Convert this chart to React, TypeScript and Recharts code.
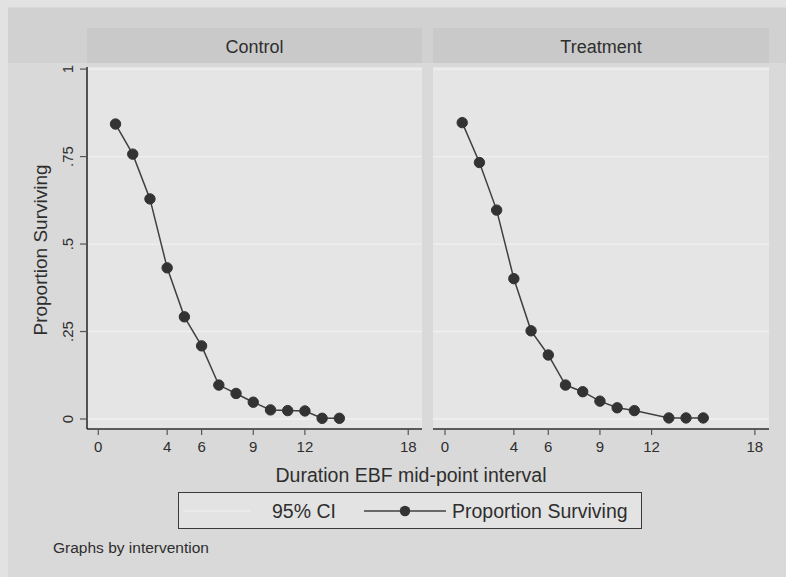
import React from 'react';
import { LineChart, Line, XAxis, YAxis, CartesianGrid, ReferenceLine } from 'recharts';

// survival by mid-point of exclusive breastfeeding interval
const controlDuration = [1, 2, 3, 4, 5, 6, 7, 8, 9, 10, 11, 12, 13, 14];
const controlSurv = [0.843, 0.757, 0.629, 0.432, 0.292, 0.209, 0.097, 0.073, 0.048, 0.026, 0.024, 0.023, 0.002, 0.002];

const treatmentDuration = [1, 2, 3, 4, 5, 6, 7, 8, 9, 10, 11, 13, 14, 15];
const treatmentSurv = [0.847, 0.733, 0.597, 0.401, 0.252, 0.183, 0.097, 0.078, 0.051, 0.032, 0.024, 0.003, 0.003, 0.003];

const xTicks = [0, 4, 6, 9, 12, 18];
const yTicks = [0, 0.25, 0.5, 0.75, 1];
const panelTitles = ['Control', 'Treatment'];

const FONT = '"Liberation Sans", Arial, Helvetica, sans-serif';
const INK = '#2e2e2e';
const LINE = '#404040';
const DOT = '#333';
const PLOT_BG = '#e5e5e5';
const GRID = '#f0f0f0';
const STRIP = '#c9c9c9';

const CHART_H = 460;
const TOP = 67;
const X_AXIS_H = 31;
const Y_DOMAIN: [number, number] = [-0.0286, 1.006];

const yFmt = (v: number) => (v === 0 ? '0' : v === 1 ? '1' : String(v).replace(/^0/, ''));

const controlData = controlDuration.map((d, i) => ({ duration: d, surv: controlSurv[i] }));
const treatmentData = treatmentDuration.map((d, i) => ({ duration: d, surv: treatmentSurv[i] }));

function RotatedTick(props: any) {
  const { x, y, payload } = props;
  return (
    <text
      x={x}
      y={y}
      transform={`rotate(-90 ${x} ${y})`}
      textAnchor="middle"
      fontSize={15}
      fontFamily={FONT}
      fill={INK}
    >
      {yFmt(payload.value)}
    </text>
  );
}

function Panel({
  data,
  width,
  xDomain,
  showY,
}: {
  data: { duration: number; surv: number }[];
  width: number;
  xDomain: [number, number];
  showY: boolean;
}) {
  return (
    <LineChart width={width} height={CHART_H} data={data} margin={{ top: TOP, right: 0, bottom: 0, left: 0 }}>
      <CartesianGrid horizontal={false} vertical={false} fill={PLOT_BG} stroke="none" />
      {yTicks.map((t) => (
        <ReferenceLine key={t} y={t} stroke={GRID} strokeWidth={1.3} />
      ))}
      <XAxis
        dataKey="duration"
        type="number"
        domain={xDomain}
        ticks={xTicks}
        interval={0}
        allowDataOverflow
        height={X_AXIS_H}
        tickSize={6}
        tickMargin={6}
        axisLine={{ stroke: INK, strokeWidth: 1.6 }}
        tickLine={{ stroke: '#555', strokeWidth: 1.2 }}
        tick={{ fontSize: 15, fontFamily: FONT, fill: INK }}
      />
      <YAxis
        type="number"
        domain={Y_DOMAIN}
        ticks={yTicks}
        interval={0}
        allowDataOverflow
        hide={!showY}
        width={87}
        tickSize={7}
        tickMargin={7}
        axisLine={{ stroke: INK, strokeWidth: 1.6 }}
        tickLine={{ stroke: '#555', strokeWidth: 1.2 }}
        tick={<RotatedTick />}
      />
      <Line
        dataKey="surv"
        type="linear"
        stroke={LINE}
        strokeWidth={1.5}
        dot={{ r: 5.2, fill: DOT, stroke: DOT, strokeWidth: 1 }}
        isAnimationActive={false}
      />
    </LineChart>
  );
}

const abs = (s: React.CSSProperties): React.CSSProperties => ({ position: 'absolute', ...s });

export default function App() {
  return (
    <div
      style={abs({
        left: 0,
        top: 0,
        width: 786,
        height: 577,
        background: '#e2e2e2',
        overflow: 'hidden',
        fontFamily: FONT,
        color: INK,
      })}
    >
      <div style={abs({ left: 8, top: 7, right: 0, bottom: 0, background: '#d9d9d9' })} />
      <div style={abs({ left: 8, top: 8, right: 0, height: 55, background: '#d1d1d1' })} />

      {/* strip headers */}
      {[
        { left: 87, width: 335 },
        { left: 433, width: 336 },
      ].map((s, i) => (
        <div
          key={i}
          style={abs({
            left: s.left,
            top: 28,
            width: s.width,
            height: 35,
            background: STRIP,
          })}
        >
          <div
            style={abs({
              left: 0,
              width: '100%',
              top: 9.8,
              fontSize: 18,
              lineHeight: 1,
              textAlign: 'center',
              whiteSpace: 'nowrap',
            })}
          >
            {panelTitles[i]}
          </div>
        </div>
      ))}

      <div style={abs({ left: 0, top: 0 })}>
        <Panel data={controlData} width={422} xDomain={[-0.656, 18.8]} showY />
      </div>
      <div style={abs({ left: 433, top: 0 })}>
        <Panel data={treatmentData} width={336} xDomain={[-0.697, 18.82]} showY={false} />
      </div>

      {/* axis titles */}
      <div
        style={abs({
          left: 40,
          top: 250,
          fontSize: 19,
          lineHeight: 1,
          whiteSpace: 'nowrap',
          transform: 'translate(-50%, -50%) rotate(-90deg)',
        })}
      >
        Proportion Surviving
      </div>
      <div
        style={abs({
          left: 411,
          top: 465.5,
          fontSize: 19.5,
          lineHeight: 1,
          whiteSpace: 'nowrap',
          transform: 'translateX(-50%)',
        })}
      >
        Duration EBF mid-point interval
      </div>

      {/* legend */}
      <div
        style={abs({
          left: 178,
          top: 492,
          width: 462,
          height: 35,
          border: '1.6px solid #3a3a3a',
          background: '#e3e3e3',
        })}
      >
        <svg style={abs({ left: 4, top: 0 })} width={70} height={36}>
          <line x1={0} y1={18} x2={68} y2={18} stroke="#ededed" strokeWidth={1.5} />
        </svg>
        <div style={abs({ left: 93, top: 9, fontSize: 19.5, lineHeight: 1, whiteSpace: 'nowrap' })}>95% CI</div>
        <svg style={abs({ left: 185, top: 0 })} width={84} height={36}>
          <line x1={0} y1={18} x2={82} y2={18} stroke={LINE} strokeWidth={1.5} />
          <circle cx={41} cy={18} r={5.2} fill={DOT} />
        </svg>
        <div style={abs({ left: 273, top: 9, fontSize: 19.5, lineHeight: 1, whiteSpace: 'nowrap' })}>
          Proportion Surviving
        </div>
      </div>

      <div style={abs({ left: 53, top: 540, fontSize: 15.5, lineHeight: 1, whiteSpace: 'nowrap' })}>
        Graphs by intervention
      </div>
    </div>
  );
}
